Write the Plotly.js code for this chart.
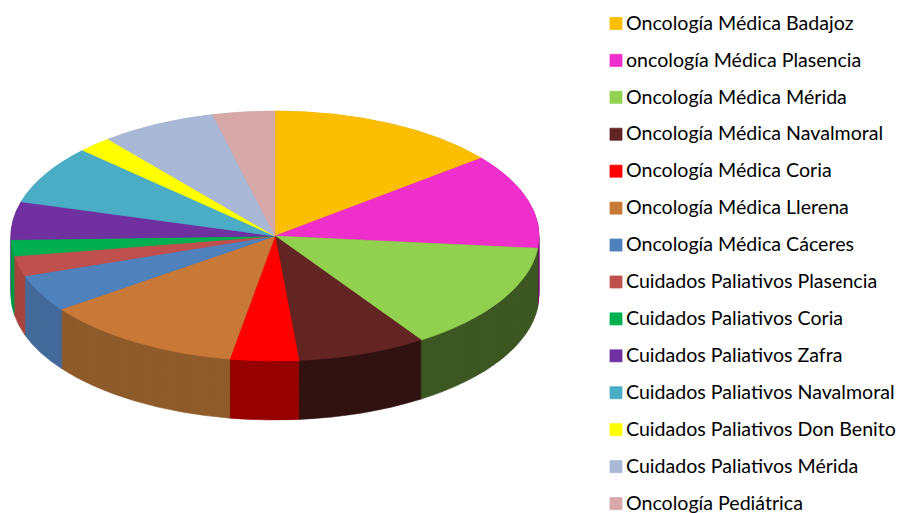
<!DOCTYPE html>
<html><head><meta charset="utf-8">
<script src="https://cdn.plot.ly/plotly-3.0.1.min.js"></script>
<style>html,body{margin:0;padding:0;background:#fff}</style>
</head><body><div id="chart" style="width:901px;height:513px"></div>
<script>
const categories = [
  "Oncología Médica Badajoz",
  "oncología Médica Plasencia",
  "Oncología Médica Mérida",
  "Oncología Médica Navalmoral",
  "Oncología Médica Coria",
  "Oncología Médica Llerena",
  "Oncología Médica Cáceres",
  "Cuidados Paliativos Plasencia",
  "Cuidados Paliativos Coria",
  "Cuidados Paliativos Zafra",
  "Cuidados Paliativos Navalmoral",
  "Cuidados Paliativos Don Benito",
  "Cuidados Paliativos Mérida",
  "Oncología Pediátrica"
];
const values = [14.3, 12.3, 14.1, 7.9, 4.2, 12.3, 4.8, 2.6, 2.1, 4.9, 7.6, 2.1, 7.1, 3.8];
const topColors = ["#FBBE00","#EE2FCB","#92D050","#632523","#FF0000","#C87837","#4F81BD",
  "#C0504D","#00B050","#7030A0","#4BACC6","#FFFF00","#A9B8D6","#D6A8A8"];
const wallColors = ["#7A5C00","#6E1660","#3D5722","#301211","#960000","#8F5B2B","#446A9A",
  "#A8453F","#009A46","#5E2886","#3A8A9E","#BDBD00","#8190B0","#A88080"];

const CX = 275, CY = 236, RX = 264, RY = 125, DEPTH = 59, STEP = 1.5;
const LEG_X = 596;
const legendLabels = categories.map(c => '<span style="font-size:19.6px">' + c + '</span>');

const offsets = [];
for (let d = DEPTH; d > 0; d -= STEP) offsets.push(d);
const traces = offsets.map(() => ({
  type: 'pie', labels: legendLabels, values: values, sort: false,
  direction: 'clockwise', rotation: 0, textinfo: 'none', hoverinfo: 'skip',
  showlegend: false, domain: {x: [0, 0.6], y: [0, 1]},
  marker: {colors: wallColors, line: {color: wallColors, width: 0.8}}
}));
traces.push({
  type: 'pie', labels: legendLabels, values: values, sort: false,
  direction: 'clockwise', rotation: 0, textinfo: 'none', hoverinfo: 'skip',
  showlegend: true, domain: {x: [0, 0.6], y: [0, 1]},
  marker: {colors: topColors, line: {color: topColors, width: 0.8}}
});

const layout = {
  width: 901, height: 513,
  margin: {l: 0, r: 0, t: 0, b: 0},
  paper_bgcolor: '#ffffff',
  showlegend: true,
  legend: {
    x: 0.64, y: 0.998, xanchor: 'left', yanchor: 'top',
    font: {family: 'Lato, Calibri, sans-serif', size: 26.1, color: '#000000'},
    bgcolor: 'rgba(0,0,0,0)', borderwidth: 0, traceorder: 'normal'
  }
};

Plotly.newPlot('chart', traces, layout, {staticPlot: true}).then(gd => {
  const groups = gd.querySelectorAll('.pielayer .trace');
  const top = groups[groups.length - 1];
  const bb = top.getBBox();
  const r = bb.width / 2, c0x = bb.x + r, c0y = bb.y + bb.height / 2;
  const sx = RX / r, sy = RY / r;
  groups.forEach((g, i) => {
    const off = i < offsets.length ? offsets[i] : 0;
    g.setAttribute('transform',
      'matrix(' + sx + ',0,0,' + sy + ',' + (CX - sx * c0x) + ',' + (CY + off - sy * c0y) + ')');
  });
  gd.querySelectorAll('.legend .legendtext').forEach(t => {
    t.setAttribute('x', 30);
    t.setAttribute('y', parseFloat(t.getAttribute('y') || 0) - 4);
  });
  const leg = gd.querySelector('g.legend');
  if (leg) {
    const m = /translate\(\s*([-\d.]+)[ ,]+([-\d.]+)/.exec(leg.getAttribute('transform') || '');
    const ly = m ? parseFloat(m[2]) : 0;
    leg.setAttribute('transform', 'translate(' + LEG_X + ',' + ly + ')');
  }
});
</script>
</body></html>
